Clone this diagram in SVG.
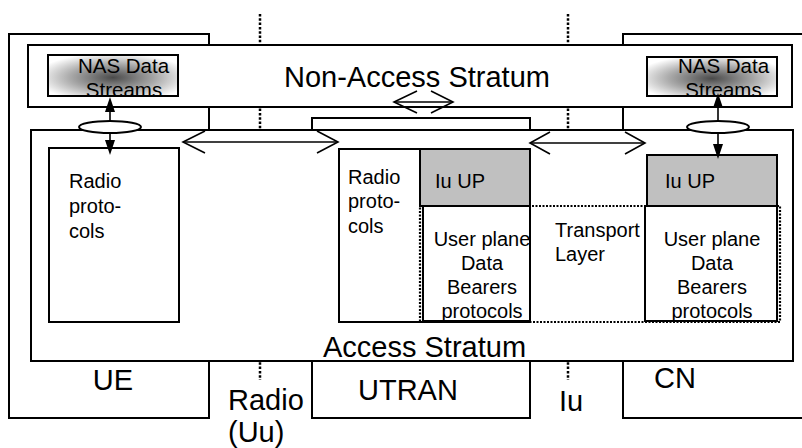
<svg xmlns="http://www.w3.org/2000/svg" width="802" height="448" viewBox="0 0 802 448">
<style>
.box{fill:#fff;stroke:#000;stroke-width:2}
.gray{fill:#c0c0c0;stroke:#000;stroke-width:2}
.dot{fill:none;stroke:#000;stroke-width:2.5;stroke-dasharray:2.5 1.8}
.dotbox{fill:none;stroke:#000;stroke-width:2.2;stroke-dasharray:2 1.5}
.arr{fill:none;stroke:#000;stroke-width:1.6}
.head{fill:#000;stroke:none}
text{font-family:"Liberation Sans",Arial,sans-serif;fill:#000}
.big{font-size:29px}
.sm{font-size:20px}
.nas{font-size:20.5px}
.mid{text-anchor:middle}
</style>
<defs>
<radialGradient id="nasg" cx="0.5" cy="0.55" r="0.6">
<stop offset="0" stop-color="#4a4a4a"/>
<stop offset="0.55" stop-color="#aaa"/>
<stop offset="1" stop-color="#fff"/>
</radialGradient>
</defs>
<g id="dividers">
<line class="dot" x1="260" y1="14" x2="260" y2="380"/>
<line class="dot" x1="568" y1="14" x2="568" y2="380"/>
</g>
<g id="ue"><rect class="box" x="9" y="34" width="200" height="384"/></g>
<g id="utran"><rect class="box" x="312" y="118" width="218" height="300"/></g>
<g id="cn"><rect class="box" x="623" y="34" width="200" height="384"/></g>
<g id="nas"><rect class="box" x="28" y="45" width="764" height="62"/></g>
<g id="as"><rect class="box" x="31" y="130" width="762" height="231"/></g>
<g id="nas-ue"><rect x="48" y="55" width="130" height="41" fill="url(#nasg)" stroke="#000" stroke-width="2"/></g>
<g id="nas-cn"><rect x="647" y="57" width="130" height="39" fill="url(#nasg)" stroke="#000" stroke-width="2"/></g>
<g id="ue-radio"><rect class="box" x="49" y="148" width="130" height="174"/></g>
<g id="utran-radio"><rect class="box" x="339" y="149" width="191" height="173"/></g>
<g id="utran-iuup"><rect class="gray" x="420" y="149" width="110" height="57"/></g>
<g id="utran-up"><rect class="box" x="423" y="206" width="107" height="115"/></g>
<g id="cn-iuup"><rect class="gray" x="647" y="155" width="130" height="51"/></g>
<g id="cn-up"><rect class="box" x="645" y="206" width="132" height="115"/></g>
<g id="transport"><rect class="dotbox" x="420" y="206" width="360" height="116"/></g>
<g id="connectors">
<line class="arr" x1="110" y1="105" x2="110" y2="146"/>
<polygon class="head" points="110,97 105,112 115,112"/>
<polygon class="head" points="110,155 105,140 115,140"/>
<ellipse cx="110" cy="127" rx="31" ry="6" fill="#fff" stroke="#000" stroke-width="2"/>
<line class="arr" x1="718" y1="101" x2="718" y2="150"/>
<polygon class="head" points="718,93 713,108 723,108"/>
<polygon class="head" points="718,159 713,144 723,144"/>
<ellipse cx="718" cy="127" rx="31" ry="6" fill="#fff" stroke="#000" stroke-width="2"/>
<line class="arr" x1="183" y1="142" x2="338" y2="142"/>
<polyline class="arr" points="205,131 183,142 205,153"/>
<polyline class="arr" points="317,131 338,142 317,153"/>
<line class="arr" x1="394" y1="102" x2="453" y2="102"/>
<polyline class="arr" points="417,91 394,102 417,113"/>
<polyline class="arr" points="431,91 453,102 431,113"/>
<line class="arr" x1="530" y1="143" x2="645" y2="143"/>
<polyline class="arr" points="550,132 530,143 550,154"/>
<polyline class="arr" points="625,132 645,143 625,154"/>
</g>
<g id="labels">
<text class="big" x="284" y="87">Non-Access Stratum</text>
<text class="big" x="323" y="357">Access Stratum</text>
<text class="big mid" x="113" y="390">UE</text>
<text class="big" x="228" y="410">Radio</text>
<text class="big" x="228" y="442">(Uu)</text>
<text class="big" x="358" y="400">UTRAN</text>
<text class="big" x="559" y="411">Iu</text>
<text class="big" x="654" y="388">CN</text>
<text class="nas mid" x="123.5" y="73">NAS Data</text>
<text class="nas mid" x="124" y="97">Streams</text>
<text class="nas mid" x="723.5" y="73">NAS Data</text>
<text class="nas mid" x="723.5" y="97">Streams</text>
<text class="sm" x="69" y="188">Radio</text>
<text class="sm" x="69" y="213">proto-</text>
<text class="sm" x="69" y="238">cols</text>
<text class="sm" x="348" y="184">Radio</text>
<text class="sm" x="348" y="208">proto-</text>
<text class="sm" x="348" y="233">cols</text>
<text class="sm" x="435" y="188">Iu UP</text>
<text class="sm" x="665" y="188">Iu UP</text>
<text class="sm mid" x="482" y="246">User plane</text>
<text class="sm mid" x="482" y="270">Data</text>
<text class="sm mid" x="482" y="294">Bearers</text>
<text class="sm mid" x="482" y="318">protocols</text>
<text class="sm mid" x="712" y="246">User plane</text>
<text class="sm mid" x="712" y="270">Data</text>
<text class="sm mid" x="712" y="294">Bearers</text>
<text class="sm mid" x="712" y="318">protocols</text>
<text class="sm" x="555" y="237">Transport</text>
<text class="sm" x="555" y="261">Layer</text>
</g>
</svg>
